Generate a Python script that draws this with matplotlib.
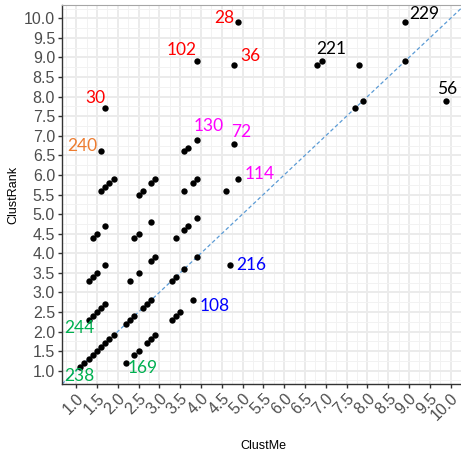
import numpy as np
import matplotlib
matplotlib.use("Agg")
import matplotlib.pyplot as plt

# ClustMe / ClustRank scores per item
clust_me = [
    1.1, 1.2, 1.3, 1.4, 1.5, 1.6, 1.7, 1.8, 1.9,
    2.2, 2.3, 2.4, 2.6, 2.7, 2.8, 3.3, 3.4, 3.6, 3.9, 7.7, 7.9, 8.9,
    1.3, 1.4, 1.5, 1.6, 1.7,
    1.3, 1.4, 1.5, 1.7,
    1.4, 1.5, 1.7,
    1.6, 1.7, 1.8, 1.9,
    1.6, 1.7,
    2.2, 2.4, 2.5, 2.7, 2.8, 2.9,
    2.3, 2.5, 2.8, 2.9,
    2.4, 2.5, 2.8,
    2.5, 2.6, 2.8, 2.9,
    3.3, 3.4, 3.5, 3.8,
    3.4, 3.6, 3.7, 3.9,
    3.6, 3.8, 3.9,
    3.6, 3.7, 3.9,
    3.9,
    4.6, 4.7, 4.8, 4.8, 4.9, 4.9,
    6.8, 6.9, 7.8,
    8.9, 9.9,
]
clust_rank = [
    1.1, 1.2, 1.3, 1.4, 1.5, 1.6, 1.7, 1.8, 1.9,
    2.2, 2.3, 2.4, 2.6, 2.7, 2.8, 3.3, 3.4, 3.6, 3.9, 7.7, 7.9, 8.9,
    2.3, 2.4, 2.5, 2.6, 2.7,
    3.3, 3.4, 3.5, 3.7,
    4.4, 4.5, 4.7,
    5.6, 5.7, 5.8, 5.9,
    6.6, 7.7,
    1.2, 1.4, 1.5, 1.7, 1.8, 1.9,
    3.3, 3.5, 3.8, 3.9,
    4.4, 4.5, 4.8,
    5.5, 5.6, 5.8, 5.9,
    2.3, 2.4, 2.5, 2.8,
    4.4, 4.6, 4.7, 4.9,
    5.6, 5.8, 5.9,
    6.6, 6.7, 6.9,
    8.9,
    5.6, 3.7, 6.8, 8.8, 9.9, 5.9,
    8.8, 8.9, 8.8,
    9.9, 7.9,
]

# labelled items: text, point (x, y), colour
label_text = ["28", "102", "36", "30", "240", "130", "72", "114",
              "216", "108", "244", "238", "169", "221", "229", "56"]
label_x = [4.9, 3.9, 4.8, 1.7, 1.6, 3.9, 4.8, 4.9,
           4.7, 3.8, 1.3, 1.1, 2.2, 6.9, 8.9, 9.9]
label_y = [9.9, 8.9, 8.8, 7.7, 6.6, 6.9, 6.8, 5.9,
           3.7, 2.8, 2.3, 1.1, 1.2, 8.9, 9.9, 7.9]
label_col = ["#FF0000", "#FF0000", "#FF0000", "#FF0000", "#ED7D31",
             "#FF00FF", "#FF00FF", "#FF00FF", "#0000FF", "#0000FF",
             "#00B050", "#00B050", "#00B050", "black", "black", "black"]
# offsets of the text from its point, in pixels
label_dx = [-14, -15, 16, -10, -19, 12, 7, 21, 21, 22, -9, -1, 17, 10, 19, 1]
label_dy = [4, 11, 9, 10, 5, 14, 12, 5, 0, -6, -8, -9, -5, 12, 8, 12]

ticks = np.arange(1.0, 10.01, 0.5)
tick_labels = [f"{t:.1f}" for t in ticks]

fig = plt.figure(figsize=(4.61, 4.57), dpi=100)
ax = fig.add_axes([0.1345, 0.1597, 0.8735, 0.8293])

ax.set_xlim(0.66, 10.34)
ax.set_ylim(0.66, 10.34)

ax.set_xticks(ticks)
ax.set_yticks(ticks)
ax.set_xticks(np.arange(0.75, 10.3, 0.5), minor=True)
ax.set_yticks(np.arange(0.75, 10.3, 0.5), minor=True)
ax.set_xticklabels(tick_labels, rotation=45, ha="right", va="top",
                   rotation_mode="anchor")
ax.set_yticklabels(tick_labels)
ax.tick_params(which="major", length=3, width=1, color="#333333",
               labelsize=11.5, labelcolor="#4D4D4D", pad=2)
ax.tick_params(which="minor", length=0)
for lab in ax.get_xticklabels() + ax.get_yticklabels():
    lab.set_fontfamily("Liberation Sans")

ax.grid(which="major", color="#EBEBEB", linewidth=1.4)
ax.grid(which="minor", color="#F2F2F2", linewidth=0.7)
ax.set_axisbelow(True)

for side in ["left", "bottom"]:
    ax.spines[side].set_color("#333333")
    ax.spines[side].set_linewidth(1.0)
ax.spines["top"].set_color("#A6A6A6")
ax.spines["right"].set_color("#A6A6A6")

ax.axline((1, 1), slope=1, color="#5B9BD5", linestyle=(0, (3, 2)),
          linewidth=0.9, zorder=2)

ax.scatter(clust_me, clust_rank, s=21, color="black", zorder=3,
           linewidths=0)

for t, x, y, c, dx, dy in zip(label_text, label_x, label_y, label_col,
                              label_dx, label_dy):
    ax.annotate(t, (x, y), xytext=(dx, dy), textcoords="offset pixels",
                ha="center", va="center", color=c, fontsize=12.5,
                family="Lato", zorder=4)

ax.set_xlabel("ClustMe", fontsize=9, family="Liberation Sans",
              color="black", labelpad=12)
ax.set_ylabel("ClustRank", fontsize=9, family="Liberation Sans",
              color="black", labelpad=3)

fig.savefig("out.png", dpi=100)
